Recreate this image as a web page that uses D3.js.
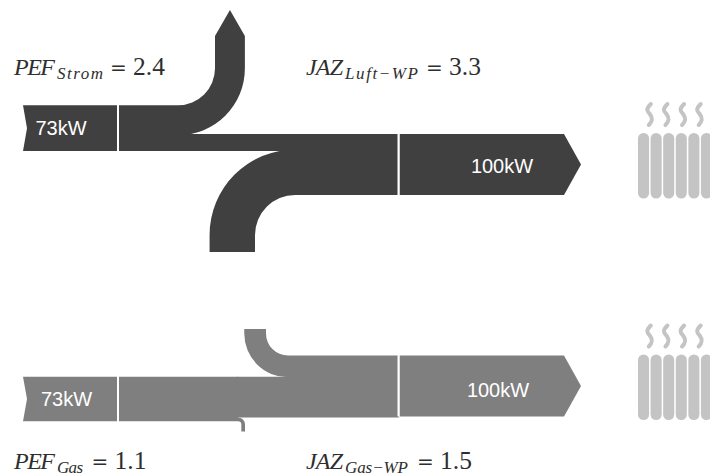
<!DOCTYPE html>
<html><head><meta charset="utf-8">
<script src="https://cdn.jsdelivr.net/npm/d3@7/dist/d3.min.js"></script>
<style>html,body{margin:0;padding:0;background:#fff}svg{display:block}</style>
</head><body><div id="c"></div>
<script>
const panels = ["Strom", "Gas"];
const inputValues = [75, 73];
const throughValues = [28, 67];
const branchOutValues = [49, 6];
const ambientValues = [72, 34];
const outputValues = [100, 100];
const inputLabels = ["73kW", "73kW"];
const outputLabels = ["100kW", "100kW"];
const formulaLeft = [["PEF", "Strom", "2.4"], ["PEF", "Gas", "1.1"]];
const formulaRight = [["JAZ", "Luft−WP", "3.3"], ["JAZ", "Gas−WP", "1.5"]];
const radiatorBars = [0, 1, 2, 3, 4, 5];
const steamLines = [0, 1, 2, 3];

const W = 710, H = 475;
const svg = d3.select("#c").append("svg").attr("width", W).attr("height", H);
const t = d3.scaleLinear().domain([0, 100]).range([0, 61]);
const barX = d3.scaleBand().domain(radiatorBars).range([638, 712]).paddingInner(0.12);
const steamX = d3.scaleBand().domain(steamLines).range([641.5, 708]);

const layout = [
  {color:"#404040", outTop:134, inLabelX:61, inLabelY:135, outLabelX:502, outLabelY:173},
  {color:"#7f7f7f", outTop:355.5, inLabelX:66.5, inLabelY:406, outLabelX:498, outLabelY:397}
];

function poly(g, pts, color){
  g.append("path").attr("d", d3.line()(pts) + "Z").attr("fill", color);
}

panels.forEach((name, i) => {
  const L = layout[i], c = L.color;
  const g = svg.append("g");
  const outTop = L.outTop, outBot = outTop + t(outputValues[i]);
  const amb = t(ambientValues[i]), thr = t(throughValues[i]), inp = t(inputValues[i]), br = t(branchOutValues[i]);
  const thrTop = i === 0 ? outTop : outTop + amb + 0.4;
  const thrBot = thrTop + thr;
  const inTop = i === 0 ? thrBot - inp : thrTop;
  const inBot = inTop + inp;
  const notchY = (inTop + inBot) / 2;

  // input tag
  poly(g, [[23,inTop],[117,inTop],[117,inBot],[23,inBot],[27,notchY]], c);

  if (i === 0) {
    const r = 37, cx = 178, cy = inTop - r;
    poly(g, [[119,inTop],[cx,inTop],[cx,inBot],[119,inBot]], c);
    poly(g, [[cx-1,thrTop],[399,thrTop],[399,thrBot],[cx-1,thrBot]], c);
    // branch up with arrow head
    const p = d3.path();
    p.moveTo(cx, inTop);
    p.arc(cx, cy, r, Math.PI/2, 0, true);
    p.lineTo(cx + r, 36);
    p.lineTo(cx + r + br/2, 10);
    p.lineTo(cx + r + br, 36);
    p.lineTo(cx + r + br, cy);
    p.arc(cx, cy, r + br, 0, Math.PI/2, false);
    p.closePath();
    g.append("path").attr("d", p.toString()).attr("fill", c);
    // ambient in from below
    const ri = 40, ax = 295, ay = outBot + ri;
    const q = d3.path();
    q.moveTo(398, outBot);
    q.lineTo(ax, outBot);
    q.arc(ax, ay, ri, -Math.PI/2, Math.PI, true);
    q.lineTo(ax - ri, 252);
    q.lineTo(ax - ri - amb - 1.5, 252);
    q.lineTo(ax - ri - amb - 1.5, ay);
    q.arc(ax, ay, ri + amb + 1.5, Math.PI, -Math.PI/2, false);
    q.lineTo(398, thrBot - 1);
    q.closePath();
    g.append("path").attr("d", q.toString()).attr("fill", c);
  } else {
    const lossX = 238, rl = 7;
    poly(g, [[119,inTop],[lossX,inTop],[lossX,inBot],[119,inBot]], c);
    poly(g, [[lossX-1,thrTop],[399,thrTop],[399,thrBot],[lossX-1,thrBot]], c);
    // ambient in from above
    const ri = 22, ax = 288, ay = outTop - ri;
    const q = d3.path();
    q.moveTo(398, outTop);
    q.lineTo(ax, outTop);
    q.arc(ax, ay, ri, Math.PI/2, Math.PI, false);
    q.lineTo(ax - ri, 329);
    q.lineTo(ax - ri - amb - 1, 329);
    q.lineTo(ax - ri - amb - 1, ay);
    q.arc(ax, ay, ri + amb + 1, Math.PI, Math.PI/2, true);
    q.lineTo(398, thrTop + 1);
    q.closePath();
    g.append("path").attr("d", q.toString()).attr("fill", c);
    // small loss branch
    const b = d3.path();
    b.moveTo(lossX, thrBot);
    b.arc(lossX, thrBot + rl, rl, -Math.PI/2, 0, false);
    b.lineTo(lossX + rl, 431.5);
    b.lineTo(lossX + rl - br, 431.5);
    b.lineTo(lossX + rl - br, thrBot + rl);
    b.arc(lossX, thrBot + rl, rl - br, 0, -Math.PI/2, true);
    b.closePath();
    g.append("path").attr("d", b.toString()).attr("fill", c);
  }

  // output arrow
  const outMid = (outTop + outBot) / 2;
  poly(g, [[399.5,outTop],[564,outTop],[581,outMid],[564,outBot],[399.5,outBot]], c);

  // labels
  g.append("text").attr("x", L.inLabelX).attr("y", L.inLabelY).attr("text-anchor","middle")
    .attr("font-family","'Liberation Sans',Arial,sans-serif").attr("font-size",20).attr("fill","#fff").text(inputLabels[i]);
  g.append("text").attr("x", L.outLabelX).attr("y", L.outLabelY).attr("text-anchor","middle")
    .attr("font-family","'Liberation Sans',Arial,sans-serif").attr("font-size",20).attr("fill","#fff").text(outputLabels[i]);

  // radiator
  const top = outTop - 1;
  g.selectAll("rect.bar").data(radiatorBars).enter().append("rect").attr("class","bar")
    .attr("x", d => barX(d)).attr("y", top).attr("width", barX.bandwidth()).attr("height", 65.5)
    .attr("rx", barX.bandwidth()/2).attr("fill","#c4c4c4");
  g.selectAll("path.steam").data(steamLines).enter().append("path").attr("class","steam")
    .attr("d", d => {
      const x = steamX(d) + steamX.bandwidth()/2, y = top - 31;
      const p = d3.path();
      p.moveTo(x + 1, y + 2);
      p.bezierCurveTo(x - 4, y + 7, x - 3, y + 9, x, y + 12);
      p.bezierCurveTo(x + 3, y + 16, x + 3, y + 19, x - 1, y + 23);
      return p.toString();
    }).attr("fill","none").attr("stroke","#c4c4c4").attr("stroke-width",4).attr("stroke-linecap","round");
});

// separators
const seps = [
  [118, 105, 151], [398.5, 134, 195], [118, 376, 420], [398.5, 355.5, 416.5]
];
svg.selectAll("line.sep").data(seps).enter().append("line").attr("class","sep")
  .attr("x1", d => d[0]).attr("x2", d => d[0]).attr("y1", d => d[1]).attr("y2", d => d[2])
  .attr("stroke","#fff").attr("stroke-width",2);

// formulas
function formula(x, y, parts, pos){
  const g = svg.append("g").attr("fill","#2e2e2e").attr("font-family","'Liberation Serif',serif");
  g.append("text").attr("x", x).attr("y", y).attr("font-size",24).attr("font-style","italic")
    .attr("textLength", pos.mainW).attr("lengthAdjust","spacing").text(parts[0]);
  g.append("text").attr("x", pos.subX).attr("y", y + 3.5).attr("font-size",17).attr("font-style","italic")
    .attr("textLength", pos.subW).attr("lengthAdjust","spacing").text(parts[1]);
  g.append("text").attr("x", pos.eqX).attr("y", y).attr("font-family","'DejaVu Serif',serif").attr("font-size",20).text("=");
  g.append("text").attr("x", pos.eqX + 23).attr("y", y).attr("font-size",25.5).text(parts[2]);
}
const fy = [75, 469];
const leftPos = [{mainW:41, subX:57, subW:46, eqX:110}, {mainW:41, subX:57, subW:26, eqX:91.5}];
const rightPos = [{mainW:37, subX:345, subW:73, eqX:426}, {mainW:37, subX:345, subW:63, eqX:417}];
panels.forEach((n, i) => {
  formula(14, fy[i], formulaLeft[i], leftPos[i]);
  formula(306, fy[i], formulaRight[i], rightPos[i]);
});
</script></body></html>
